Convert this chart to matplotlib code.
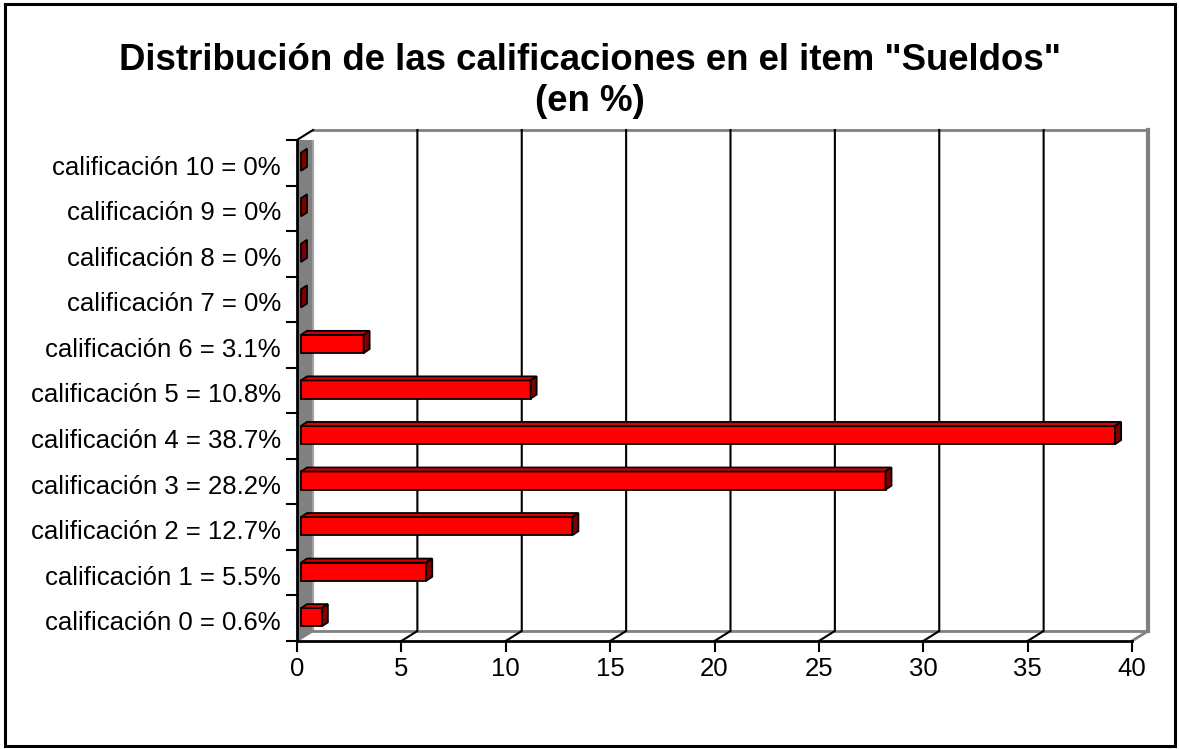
import matplotlib
matplotlib.use('Agg')
import matplotlib.pyplot as plt
from matplotlib.patches import Polygon, Rectangle

plt.rcParams['font.family'] = ['Liberation Sans', 'DejaVu Sans']

# datos del grafico
etiquetas = ['calificación 0 = 0.6%', 'calificación 1 = 5.5%', 'calificación 2 = 12.7%',
             'calificación 3 = 28.2%', 'calificación 4 = 38.7%', 'calificación 5 = 10.8%',
             'calificación 6 = 3.1%', 'calificación 7 = 0%', 'calificación 8 = 0%',
             'calificación 9 = 0%', 'calificación 10 = 0%']
valores = [1, 6, 13, 28, 39, 11, 3, 0, 0, 0, 0]   # largo dibujado de cada barra
xticks = [0, 5, 10, 15, 20, 25, 30, 35, 40]
titulo = 'Distribución de las calificaciones en el item "Sueldos"\n(en %)'

W, H = 1179, 749
fig = plt.figure(figsize=(W / 100, H / 100), dpi=100)
fig.patch.set_facecolor('white')
fig.patches.append(Rectangle((0.004, 0.004), 0.993, 0.991, transform=fig.transFigure,
                             fill=False, edgecolor='black', linewidth=2.2))

ax = fig.add_axes([297 / W, 1 - 641 / H, 835 / W, 501 / H])
xmax = xticks[-1]
n = len(valores)
ax.set_xlim(0, xmax)
ax.set_ylim(-0.5, n - 0.5)
ax.axis('off')

px = xmax / 835.0      # unidades de datos por pixel
py = n / 501.0
DX, DY = 16 * px, 10 * py   # profundidad del fondo
y0, y1 = -0.5, n - 0.5

gris = '#808080'
# pared izquierda
ax.add_patch(Polygon([(0, y0), (0, y1), (DX, y1 + DY), (DX, y0 + DY)],
                     closed=True, facecolor=gris, edgecolor='none', zorder=1))
ax.plot([DX, DX], [y0 + DY, y1 + DY], color='#a0a0a0', lw=1.5, zorder=1)
# bordes del fondo
ax.plot([DX, xmax + DX], [y1 + DY, y1 + DY], color=gris, lw=2, zorder=1, clip_on=False)
ax.plot([xmax + DX, xmax + DX], [y0 + DY, y1 + DY], color=gris, lw=3, zorder=1, clip_on=False)
ax.plot([DX, xmax + DX], [y0 + DY, y0 + DY], color=gris, lw=2, zorder=1, clip_on=False)
ax.plot([0, DX], [y0, y0 + DY], color=gris, lw=1.5, zorder=1, clip_on=False)
ax.plot([xmax, xmax + DX], [y0, y0 + DY], color=gris, lw=2, zorder=1, clip_on=False)
# lineas de division
for t in xticks[1:-1]:
    ax.plot([t, t + DX, t + DX], [y0, y0 + DY, y1 + DY], color='black', lw=1.5,
            zorder=2, clip_on=False)

# ejes
ax.plot([0, 0], [y0, y1], color='black', lw=2, zorder=5, clip_on=False)
ax.plot([0, DX], [y1, y1 + DY], color='black', lw=1.5, zorder=5, clip_on=False)
ax.plot([0, xmax], [y0, y0], color='black', lw=2, zorder=5, clip_on=False)
for k in range(n + 1):
    ax.plot([-10 * px, 0], [k - 0.5, k - 0.5], color='black', lw=1.5, zorder=5, clip_on=False)
for t in xticks:
    ax.plot([t, t], [y0, y0 - 10 * py], color='black', lw=1.5, zorder=5, clip_on=False)
    ax.text(t, y0 - 28 * py, str(t), ha='center', va='center', fontsize=18.5)

for i, lab in enumerate(etiquetas):
    ax.text(-16 * px, i - 5 * py, lab, ha='right', va='center', fontsize=18.5)

# barras con efecto 3D
bx = 4 * px
bdx, bdy = 6 * px, 4 * py
alto = 0.40
for i, v in enumerate(valores):
    ya = i - alto / 2 + 1 * py
    yb = ya + alto
    if v > 0:
        ax.add_patch(Rectangle((bx, ya), v, alto, facecolor='#ff0000', edgecolor='black',
                               lw=1.3, zorder=4))
        ax.add_patch(Polygon([(bx, yb), (bx + v, yb), (bx + v + bdx, yb + bdy), (bx + bdx, yb + bdy)],
                             closed=True, facecolor='#d80000', edgecolor='black', lw=1.3, zorder=4))
    ax.add_patch(Polygon([(bx + v, ya), (bx + v, yb), (bx + v + bdx, yb + bdy), (bx + v + bdx, ya + bdy)],
                         closed=True, facecolor='#800000', edgecolor='black', lw=1.3, zorder=4))

fig.text(0.5005, 1 - 81 / H, titulo, ha='center', va='center', fontsize=26.4,
         fontweight='bold', linespacing=1.2)

fig.savefig('out.png', dpi=100)
